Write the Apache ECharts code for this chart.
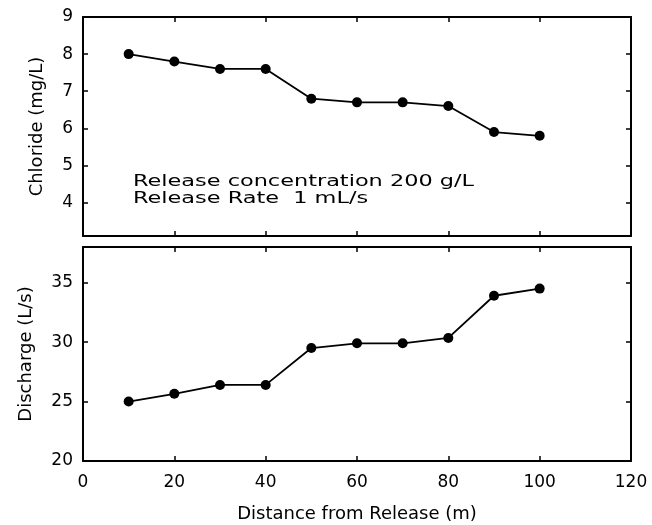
<!DOCTYPE html>
<html>
<head>
<meta charset="utf-8">
<script src="https://cdn.jsdelivr.net/npm/echarts@6/dist/echarts.min.js"></script>
<style>
  html, body { margin: 0; padding: 0; background: #fff; }
  #chart { width: 652px; height: 525px; }
</style>
</head>
<body>
<div id="chart"></div>
<script>
// distance from release (m)
const distance = [10, 20, 30, 40, 50, 60, 70, 80, 90, 100];
// chloride (mg/L)
const chloride = [8.0, 7.8, 7.6, 7.6, 6.8, 6.7, 6.7, 6.6, 5.9, 5.8];
// discharge (L/s)
const discharge = [25.0, 25.65, 26.4, 26.4, 29.5, 29.9, 29.9, 30.35, 33.9, 34.5];

const chlorideTicks = [4, 5, 6, 7, 8, 9];
const dischargeTicks = [20, 25, 30, 35];

const font = 'DejaVu Sans';
const ink = '#000';

const chart = echarts.init(document.getElementById('chart'));

/* helpers for the framed axes */
const line = { show: true, onZero: false, lineStyle: { color: ink, width: 2 } };
const tick = { show: true, inside: true, length: 5, lineStyle: { color: ink, width: 1.5 } };

function xAx(grid, pos, labels, name) {
  return {
    type: 'value', gridIndex: grid, position: pos,
    min: 0, max: 120, interval: 20,
    axisLine: line, axisTick: tick, splitLine: { show: false },
    axisLabel: { show: labels, color: ink, fontFamily: font, fontSize: 17, margin: 13 },
    name: name, nameLocation: 'middle', nameGap: 44,
    nameTextStyle: { color: ink, fontFamily: font, fontSize: 18 }
  };
}

function yAx(grid, pos, min, max, ticks, labels, name, gap) {
  return {
    type: 'value', gridIndex: grid, position: pos,
    min: min, max: max,
    axisLine: line,
    axisTick: Object.assign({}, tick, { customValues: ticks }),
    splitLine: { show: false },
    axisLabel: { show: labels, customValues: ticks, color: ink, fontFamily: font, fontSize: 17, margin: 10 },
    name: name, nameLocation: 'middle', nameGap: gap,
    nameTextStyle: { color: ink, fontFamily: font, fontSize: 18 }
  };
}

const pointStyle = {
  type: 'line',
  symbol: 'circle',
  symbolSize: 10,
  itemStyle: { color: ink },
  lineStyle: { color: ink, width: 1.8 },
  animation: false
};

let option = {
  backgroundColor: '#fff',
  grid: [
    { left: 83, right: 21, top: 17, height: 219 },
    { left: 83, right: 21, top: 247, height: 214 }
  ],
  xAxis: [
    xAx(0, 'bottom', false, ''),
    xAx(0, 'top', false, ''),
    xAx(1, 'bottom', true, 'Distance from Release (m)'),
    xAx(1, 'top', false, '')
  ],
  yAxis: [
    yAx(0, 'left', 3.1, 9, chlorideTicks, true, 'Chloride (mg/L)', 37),
    yAx(0, 'right', 3.1, 9, chlorideTicks, false, '', 0),
    yAx(1, 'left', 20, 38, dischargeTicks, true, 'Discharge (L/s)', 48),
    yAx(1, 'right', 20, 38, dischargeTicks, false, '', 0)
  ],
  graphic: [
    {
      type: 'text', x: 133, y: 173, scaleX: 1.4,
      style: {
        text: 'Release concentration 200 g/L\nRelease Rate  1 mL/s',
        fill: ink, font: '16px "DejaVu Sans"', lineHeight: 17, verticalAlign: 'top'
      }
    }
  ],
  series: [
    Object.assign({}, pointStyle, {
      name: 'Chloride', xAxisIndex: 0, yAxisIndex: 0,
      data: distance.map((d, i) => [d, chloride[i]])
    }),
    Object.assign({}, pointStyle, {
      name: 'Discharge', xAxisIndex: 2, yAxisIndex: 2,
      data: distance.map((d, i) => [d, discharge[i]])
    })
  ]
};

option && chart.setOption(option);
</script>
</body>
</html>
